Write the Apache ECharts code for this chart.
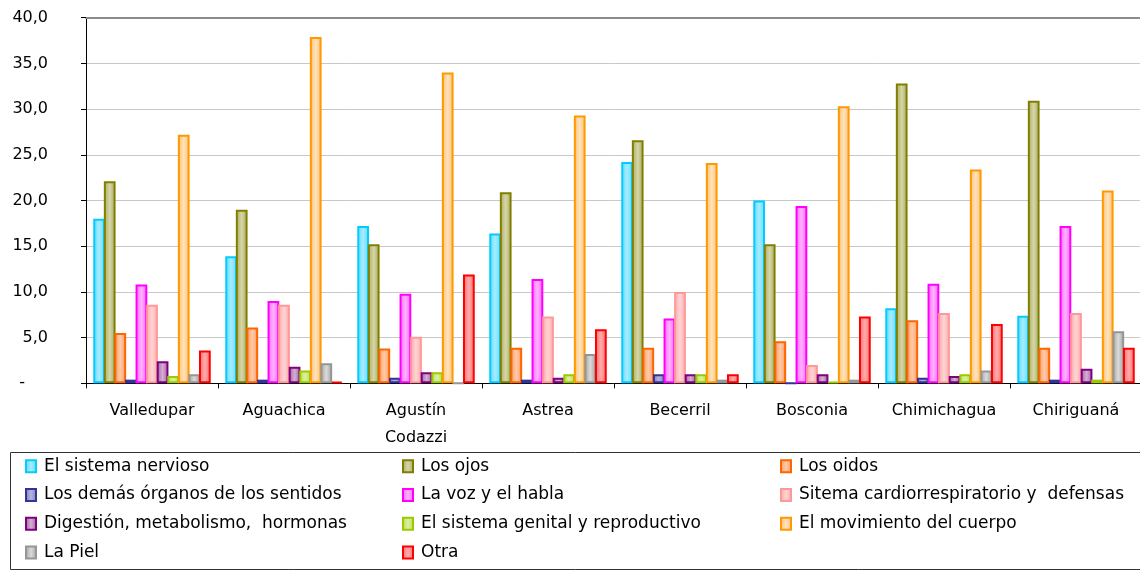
<!DOCTYPE html>
<html>
<head>
<meta charset="utf-8">
<script src="https://cdn.jsdelivr.net/npm/echarts@6/dist/echarts.min.js"></script>
<style>
html,body{margin:0;padding:0;background:#fff;}
#chart{width:1140px;height:571px;}
</style>
</head>
<body>
<div id="chart"></div>
<script>
const categories = ['Valledupar', 'Aguachica', 'Agustín\nCodazzi', 'Astrea', 'Becerril', 'Bosconia', 'Chimichagua', 'Chiriguaná'];
const yTicks = [0, 5, 10, 15, 20, 25, 30, 35, 40];

const nervioso   = [18.0, 13.9, 17.2, 16.4, 24.2, 20.0, 8.2, 7.4];
const ojos       = [22.1, 19.0, 15.2, 20.9, 26.6, 15.2, 32.8, 30.9];
const oidos      = [5.5, 6.1, 3.8, 3.9, 3.9, 4.6, 6.9, 3.9];
const demas      = [0.4, 0.4, 0.6, 0.4, 1.0, 0, 0.6, 0.4];
const voz        = [10.8, 9.0, 9.8, 11.4, 7.1, 19.4, 10.9, 17.2];
const cardio     = [8.6, 8.6, 5.1, 7.3, 10.0, 2.0, 7.7, 7.7];
const digestion  = [2.4, 1.8, 1.2, 0.6, 1.0, 1.0, 0.8, 1.6];
const genital    = [0.8, 1.4, 1.2, 1.0, 1.0, 0.2, 1.0, 0.4];
const movimiento = [27.2, 37.9, 34.0, 29.3, 24.1, 30.3, 23.4, 21.1];
const piel       = [1.0, 2.2, 0, 3.2, 0.4, 0.4, 1.4, 5.7];
const otra       = [3.6, 0.2, 11.9, 5.9, 1.0, 7.3, 6.5, 3.9];

const seriesNames = [
  'El sistema nervioso', 'Los ojos', 'Los oidos',
  'Los demás órganos de los sentidos', 'La voz y el habla', 'Sitema cardiorrespiratorio y  defensas',
  'Digestión, metabolismo,  hormonas', 'El sistema genital y reproductivo', 'El movimiento del cuerpo',
  'La Piel', 'Otra'
];
const seriesData = [nervioso, ojos, oidos, demas, voz, cardio, digestion, genital, movimiento, piel, otra];
// [border, edge fill, center fill]
const seriesColors = [
  ['#00CCFF', '#5FD8FF', '#A6ECFF'],
  ['#808000', '#A8A860', '#D6D6A8'],
  ['#FF6600', '#FF9A66', '#FFCBA6'],
  ['#333399', '#7D7DBE', '#B4B4DA'],
  ['#FF00FF', '#FF66FF', '#FFB0FF'],
  ['#FF9999', '#FFAAAA', '#FFD4D4'],
  ['#800080', '#A060A0', '#D4AED4'],
  ['#99CC00', '#B8DD50', '#DDF0A0'],
  ['#FF9900', '#FFC070', '#FFE2BC'],
  ['#969696', '#A0A0A0', '#DADADA'],
  ['#FF0000', '#FF7070', '#FFAAAA']
];

const FONT = 'DejaVu Sans';

const series = seriesNames.map((name, i) => ({
  name: name,
  type: 'bar',
  data: seriesData[i],
  barGap: '-10%',
  barCategoryGap: '11%',
  itemStyle: {
    color: {
      type: 'linear', x: 0, y: 0, x2: 1, y2: 0,
      colorStops: [
        { offset: 0, color: seriesColors[i][1] },
        { offset: 0.5, color: seriesColors[i][2] },
        { offset: 1, color: seriesColors[i][1] }
      ]
    },
    borderColor: seriesColors[i][0],
    borderWidth: 2
  },
  emphasis: { disabled: true }
}));

function legendCol(names, left) {
  return {
    orient: 'vertical',
    left: left,
    top: 452,
    padding: 0,
    itemGap: 0,
    itemWidth: 10,
    itemHeight: 12,
    icon: 'rect',
    selectedMode: false,
    data: names,
    textStyle: {
      fontFamily: FONT,
      fontSize: 17,
      color: '#000',
      lineHeight: 28.7,
      padding: [0, 0, 0, 3]
    }
  };
}

const chart = echarts.init(document.getElementById('chart'), null, { renderer: 'canvas' });
chart.setOption({
  animation: false,
  backgroundColor: '#fff',
  grid: {
    left: 86, right: -2, top: 17.7, bottom: 187.7,
    containLabel: false,
    outerBoundsMode: 'none'
  },
  legend: [
    legendCol([seriesNames[0], seriesNames[3], seriesNames[6], seriesNames[9]], 25),
    legendCol([seriesNames[1], seriesNames[4], seriesNames[7], seriesNames[10]], 402),
    legendCol([seriesNames[2], seriesNames[5], seriesNames[8]], 780)
  ],
  xAxis: [
    {
      type: 'category',
      data: categories,
      axisLine: { lineStyle: { color: '#000', width: 1 } },
      axisTick: { show: true, length: 5, lineStyle: { color: '#000' } },
      axisLabel: {
        fontFamily: FONT, fontSize: 16, color: '#000',
        margin: 14, lineHeight: 27, interval: 0
      },
      splitLine: { show: false }
    },
    {
      type: 'category',
      data: categories,
      position: 'top',
      axisLine: { lineStyle: { color: '#8c8c8c', width: 2 } },
      axisTick: { show: false },
      axisLabel: { show: false },
      splitLine: { show: false }
    }
  ],
  yAxis: {
    type: 'value',
    min: yTicks[0],
    max: yTicks[yTicks.length - 1],
    interval: yTicks[1] - yTicks[0],
    axisLine: { show: true, lineStyle: { color: '#000', width: 1 } },
    axisTick: { show: true, length: 5, lineStyle: { color: '#000' } },
    splitLine: { show: true, lineStyle: { color: '#c8c8c8', width: 1 } },
    axisLabel: {
      fontFamily: FONT, fontSize: 16, color: '#000', margin: 38,
      formatter: function (v) {
        if (v === 0) return '{d|-}';
        return v.toFixed(1).replace('.', ',');
      },
      rich: {
        d: { fontFamily: FONT, fontSize: 16, color: '#000', padding: [0, 23, 0, 0] }
      }
    }
  },
  graphic: [
    {
      type: 'rect',
      silent: true,
      z: -1,
      shape: { x: 10.5, y: 452.5, width: 1200, height: 117 },
      style: { fill: 'none', stroke: '#333', lineWidth: 1 }
    }
  ],
  series: series
});
</script>
</body>
</html>
